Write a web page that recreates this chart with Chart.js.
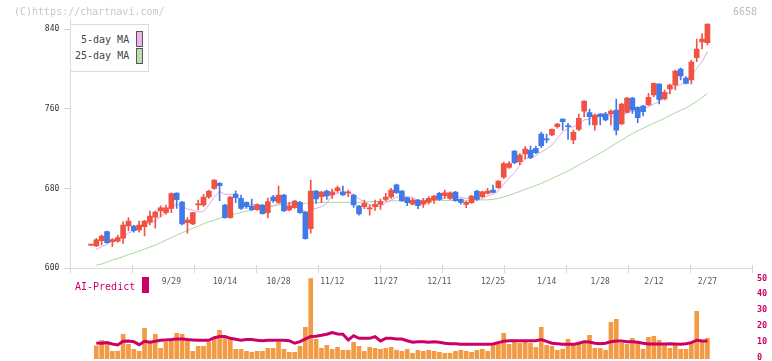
<!DOCTYPE html>
<html><head><meta charset="utf-8">
<script src="https://cdn.jsdelivr.net/npm/chart.js@4.4.1/dist/chart.umd.min.js"></script>
<style>
html,body{margin:0;padding:0;background:#fff;}
#wrap{position:relative;width:772px;height:361px;overflow:hidden;font-family:"DejaVu Sans Mono",monospace;}
canvas{position:absolute;left:0;}
#c1{top:0;}
#c2{top:270px;}
.t{position:absolute;white-space:nowrap;line-height:10px;font-size:10px;}
</style></head><body>
<div id="wrap">
<canvas id="c2" width="772" height="91"></canvas>
<canvas id="c1" width="772" height="300"></canvas>
<div class="t" style="left:14px;top:7px;color:#c8c8c8">(C)https://chartnavi.com/</div>
<div class="t" style="left:733px;top:7px;color:#bdbdbd">6658</div>
<div style="position:absolute;left:70px;top:24px;width:77px;height:46px;border:1px solid #dcdcdc;background:#fff"></div>
<div class="t" style="left:81px;top:35px;color:#444">5-day MA</div>
<div class="t" style="left:75px;top:51px;color:#444">25-day MA</div>
<div style="position:absolute;left:136px;top:31px;width:5px;height:14px;border:1px solid #555;background:#e9b6ea"></div>
<div style="position:absolute;left:136px;top:48px;width:5px;height:14px;border:1px solid #555;background:#bcdcb2"></div>
<div class="t" style="left:75px;top:282px;color:#cc0066">AI-Predict</div>
<div style="position:absolute;left:142px;top:277px;width:7px;height:16px;background:#cc0066"></div>
</div>
<script>
// ---- data ----
const dates = ['9/4','9/5','9/8','9/9','9/10','9/11','9/12','9/16','9/17','9/18','9/19','9/22','9/24','9/25','9/26','9/29','9/30','10/1','10/2','10/3','10/6','10/7','10/8','10/9','10/10','10/14','10/15','10/16','10/17','10/20','10/21','10/22','10/23','10/24','10/27','10/28','10/29','10/30','10/31','11/4','11/5','11/6','11/7','11/10','11/11','11/12','11/13','11/14','11/17','11/18','11/19','11/20','11/21','11/25','11/26','11/27','11/28','12/1','12/2','12/3','12/4','12/5','12/8','12/9','12/10','12/11','12/12','12/15','12/16','12/17','12/18','12/19','12/22','12/23','12/24','12/25','12/26','12/29','12/30','1/5','1/6','1/7','1/8','1/9','1/13','1/14','1/15','1/16','1/19','1/20','1/21','1/22','1/23','1/26','1/27','1/28','1/29','1/30','2/2','2/3','2/4','2/5','2/6','2/9','2/10','2/12','2/13','2/16','2/17','2/18','2/19','2/20','2/24','2/25','2/26','2/27'];
const tickLabels = ['9/29','10/14','10/28','11/12','11/27','12/11','12/25','1/14','1/28','2/12','2/27'];
const openP = [623,622.1,627.5,636.5,626.5,627.1,629.9,642.2,642.2,638.2,
641.5,646,651,657.3,655.6,660,675.4,666.4,645.6,644.2,
663.5,663.3,671.4,680.1,685.2,663.3,650.6,674.4,670,666,
662.3,658.6,663.3,655.6,671.4,666,673.4,658.3,660.6,666,
656.3,639.5,677.4,671.7,677.4,673.4,677.7,676.7,675.5,673.4,
662.3,661.7,659.5,661.7,664,669,671.4,683.5,677.4,670.7,
664.3,668.4,664.3,666,668.4,675,672.7,670,676.4,669,
664,665.7,677.4,671.7,675,678.4,680.8,691.2,701.2,717.6,
706.9,714.6,718.6,720.3,734.7,729.5,733.7,742.1,749.8,742.6,
728.7,739.4,757.8,756.2,743.8,754.8,754.8,754.8,758.9,744.8,
756.5,770.9,761.5,762.9,763.9,774,785,769.9,780,784,
800.1,791,789,811.5,827.2,826.5];
const highP = [623.5,629.8,633,637,629.5,633.2,646.5,650.6,643,647.3,
648,657.3,657.3,662.6,663.3,675.5,675.5,667,650.6,656,
668.4,674.1,678,689,686,664,672,677.7,673.4,666.5,
669.4,664.5,664,670.4,673.1,682.4,674,666,668,667,
657,688.5,678,677,678.4,679.4,682.4,682.4,678.4,674,
663,668.4,663.3,668.4,669.4,675.1,680,684.5,678,671,
670,669,670,671.7,673,676,678.4,676.7,677,669.5,
667,673,678,677.4,680,683.4,688,706.5,707,718,
715,722,722.7,722.7,736.7,734.7,740,745.5,750,745.5,
738.7,754.8,768,759.9,755,755,756.5,759,769.9,765.5,
771.5,771.5,762,763.5,775.7,786,785.5,779,785,799,
801,792.4,809.1,830.2,835.5,845.5];
const lowP = [622.5,621.4,623.1,625,621.5,626,624.8,637.2,635.9,636,
632.2,643.2,640,651.3,654,655.6,660,643.2,634.9,643.5,
658.3,662,670,679,667.7,650,650,665.7,659,660,
658,658,654,650.6,666,665,657,657.3,660,655,
629,634.9,665,665.7,669,670,676,673,671.7,661,
653,659.7,653,658,659,667.4,670,675,667,662.6,
663.3,659.7,661,664.3,665,668,670,669,667,664.3,
660.7,665,668,671,674.4,675.5,680,690,700,705,
704,709.6,710,715,721,726,733,740.5,738.7,729.4,
725,737.7,752.1,743.8,738.7,743.8,748,743.8,733.7,744,
756,755.5,746.1,753,763.5,772,765,769,775,779,
789,785,785,807.4,820.2,824.2];
const closeP = [623,628.2,632.2,625.4,628.5,630.5,643.2,647.3,637.5,643.2,
647.3,652.3,656.3,660.6,660.6,674.7,668.7,644.2,648.3,655.6,
664.5,671.4,677.4,688.5,682.7,650.6,671.4,670.7,660,661.6,
658.6,663.7,654.6,666.7,667.7,673.4,657.3,662.6,667.4,655.6,
629.5,677.4,669.4,676.4,672.4,676.7,680.7,673.4,676,663.3,
654.3,665,660.3,664,666.7,671.4,678.4,675.7,667.4,665.7,
668.4,662.7,667.7,670,672.4,669,675.7,675.7,667.7,666,
666,672.4,669,676.7,677.4,676.1,687.5,704.9,704.9,705.9,
713.6,719.6,710.9,716,723,728.8,739.4,744.8,747.1,742.1,
736.4,750.5,767.9,752.1,753.8,752.1,748.8,757.8,738.7,764.9,
770.9,758.9,751.2,757.2,771.6,785.7,769.6,776.6,784,798.1,
793,785.7,807.1,820.2,830.2,845.3];
const ma5 = [null,618.8,621.4,624.1,627.4,628.9,631.9,635,637.4,640.3,
643.7,645.5,647.3,651.9,655.4,660.9,664.2,661.8,659.3,658.3,
656.2,656.7,663.3,671.4,676.8,674.1,674.1,672.8,667.1,662.9,
664.5,662.9,659.7,661,662.3,665.2,663.9,665.5,665.7,663.3,
654.5,658.5,659.9,661.7,665,674.5,675.1,675.9,675.8,674,
669.5,666.4,663.8,661.4,662.1,665.5,668.2,671.2,671.9,671.7,
671.1,668,666.4,666.9,668.2,668.4,671,672.6,672.1,670.8,
670.2,669.6,668.2,670,672.3,674.3,677.3,684.5,690.2,695.9,
703.4,709.8,711,713.2,716.6,719.7,723.6,730.4,736.6,740.4,
742,744.2,748.8,749.8,752.1,755.3,754.9,752.9,750.2,752.5,
756.2,758.2,756.9,760.6,762,764.9,767.1,772.1,777.5,782.8,
784.3,787.5,793.6,800.8,807.2,817.7];
const ma25 = [null,602.7,604,606,608,609.5,611.5,613.5,615,617,
619,621,623,625.5,628,630.5,633,635.5,637.5,640,
642,644.5,646.5,648,650,651.5,653,654.5,656,657,
658,659.5,660.5,661.5,662.5,663.5,664,664.5,665,665,
665,665.5,665.5,666,666,666,666,666,666,666,
666,666.5,666.5,667,667,667,667.5,667.5,668,668,
668,668,668,668,668,668,668,668,668,668,
668,668,668.5,668.5,668.5,669,670,671.5,673,675,
677,679,681,683,685,687.5,690,692.5,695,697.5,
700.5,703.5,706.5,709.5,712.5,715.5,718.5,722,725.5,728.5,
732,735,738,740.5,743,745.5,748,750.5,753.5,756,
758.5,761,764,767.5,771.5,775.5];
const volume = [null,7.2,10.8,8.2,3.8,3.8,14.6,8.2,5.1,3.8,
18.4,8.9,14.6,5.7,9.5,10.1,15.2,14.6,10.1,3.8,
7.0,7.0,9.5,12.0,17.1,12.0,11.4,5.1,5.1,3.8,
3.2,3.8,3.8,5.7,5.7,9.5,5.1,3.2,3.2,7.0,
19.0,50.5,11.4,5.7,7.6,5.1,6.3,4.4,4.4,9.5,
7.0,3.8,6.3,5.7,5.1,5.7,6.3,4.4,3.8,5.1,
2.5,4.4,3.8,4.4,3.8,3.2,2.5,2.5,3.8,4.4,
3.8,3.2,4.4,5.1,3.8,7.6,8.2,15.2,8.2,10.1,
8.9,9.5,8.9,6.3,19.0,7.6,7.0,4.4,5.1,11.4,
7.6,8.2,9.5,13.9,5.7,5.7,4.4,22.2,24.1,8.9,
8.2,12.0,9.5,5.1,12.7,13.3,10.8,8.2,5.7,8.9,
5.1,5.1,8.9,29.1,9.5,12.0];
const aiPredict = [null,9.1,8.9,9.3,8.4,7.8,10.1,10.3,9.9,8.0,
10.1,9.5,10.1,10.8,11.0,11.2,11.6,11.6,11.2,11.0,
10.8,10.8,10.8,12.4,13.1,13.1,12.0,11.4,10.8,11.2,
11.2,10.8,10.5,10.8,10.8,10.8,10.8,10.5,8.9,9.9,
11.6,13.1,13.3,13.9,14.6,15.6,14.8,14.6,11.0,13.7,
12.0,12.0,12.0,13.1,10.3,12.0,12.0,11.6,11.6,10.5,
9.5,9.9,9.9,9.5,9.9,9.5,8.9,8.6,8.6,8.2,
8.2,8.2,8.2,8.2,8.2,8.4,9.3,10.1,10.5,10.5,
10.5,10.5,10.5,10.5,11.2,10.1,8.9,8.6,8.2,8.2,
8.2,8.9,9.9,9.7,8.9,8.6,8.9,9.9,10.3,10.3,
9.9,9.9,9.5,8.9,8.4,8.4,8.4,8.4,8.6,8.4,
8.2,8.6,9.3,10.8,10.3,10.3];
const priceTicks = [600,680,760,840];
const volTicks = [0,10,20,30,40,50];

// ---- layout / style ----
const UP = '#f05343', DOWN = '#4279e8';
const XMIN = -3.85, XMAX = 123.37;
const GRID_N = 11;
const gridTicks = Array.from({length: GRID_N + 1}, (_, k) => XMIN + k * (XMAX - XMIN) / GRID_N);
const labelIdx = {};
tickLabels.forEach(l => { labelIdx[dates.indexOf(l)] = l; });
const labelPositions = Object.keys(labelIdx).map(Number);
const idx = dates.map((_, i) => i);
const candleColors = idx.map(i => closeP[i] >= openP[i] ? UP : DOWN);
Chart.defaults.font.family = '"DejaVu Sans Mono", monospace';

const tickExt = {
  id: 'tickExt',
  afterDraw(chart) {
    const xs = chart.scales.x, ctx = chart.ctx, b = chart.chartArea.bottom;
    ctx.save(); ctx.strokeStyle = '#d6d6d6'; ctx.lineWidth = 1;
    gridTicks.forEach(v => {
      const px = Math.round(xs.getPixelForValue(v)) + 0.5;
      ctx.beginPath(); ctx.moveTo(px, b - 3); ctx.lineTo(px, b); ctx.stroke();
    });
    ctx.restore();
  }
};

new Chart(document.getElementById('c1'), {
  type: 'bar',
  data: { datasets: [
    { type: 'line', data: idx.map(i => ({x: i, y: ma25[i]})), borderColor: '#a9d69d', borderWidth: 1, pointRadius: 0, tension: 0, order: 5 },
    { type: 'line', data: idx.map(i => ({x: i, y: ma5[i]})), borderColor: '#e3a6e6', borderWidth: 1, pointRadius: 0, tension: 0, order: 4 },
    { type: 'bar', data: idx.map(i => ({x: i, y: [lowP[i], highP[i]]})), backgroundColor: candleColors, barThickness: 1, grouped: false, order: 3 },
    { type: 'bar', data: idx.map(i => ({x: i, y: [Math.min(openP[i], closeP[i]), Math.max(openP[i], closeP[i])]})), backgroundColor: candleColors, barThickness: 5, minBarLength: 1, grouped: false, order: 2 }
  ]},
  options: {
    responsive: false, maintainAspectRatio: false, animation: false, devicePixelRatio: 1,
    layout: { padding: { left: 0, top: 19.35, right: 19.7, bottom: 0 } },
    plugins: { legend: { display: false }, tooltip: { enabled: false } },
    scales: {
      x: {
        type: 'linear', min: XMIN, max: XMAX, offset: false,
        afterBuildTicks: s => { s.ticks = gridTicks.concat(labelPositions).map(v => ({value: v})); },
        afterFit: s => { s.height = 32; s.paddingLeft = 0; s.paddingRight = 0; },
        grid: { drawOnChartArea: false, offset: false, drawTicks: true, tickLength: 5,
                tickColor: c => (c.tick && labelIdx[c.tick.value] !== undefined) ? 'rgba(0,0,0,0)' : '#d6d6d6' },
        border: { display: true, color: '#dcdcdc' },
        ticks: { autoSkip: false, maxRotation: 0, padding: 4, color: '#555', font: { size: 8 },
                 callback: v => labelIdx[v] !== undefined ? labelIdx[v] : '' }
      },
      y: {
        type: 'linear', min: 600, max: 850,
        afterBuildTicks: s => { s.ticks = priceTicks.map(v => ({value: v})); },
        afterFit: s => { s.width = 70.3; s.paddingTop = 0; s.paddingBottom = 0; },
        grid: { drawOnChartArea: false, drawTicks: true, tickLength: 6, tickColor: '#cfcfcf' },
        border: { display: true, color: '#dcdcdc' },
        ticks: { padding: 5, color: '#333', font: { size: 8 } }
      }
    }
  },
  plugins: [tickExt]
});

new Chart(document.getElementById('c2'), {
  type: 'bar',
  data: { datasets: [
    { type: 'line', data: idx.map(i => ({x: i, y: aiPredict[i]})), borderColor: '#cc0066', borderWidth: 3, pointRadius: 0, tension: 0, order: 0 },
    { type: 'bar', data: idx.map(i => ({x: i, y: volume[i]})), backgroundColor: '#f29a44', barThickness: 4, base: -1.1, order: 1 }
  ]},
  options: {
    responsive: false, maintainAspectRatio: false, animation: false, devicePixelRatio: 1,
    layout: { padding: { left: 70.3, top: 8.3, right: 0, bottom: 1.96 } },
    plugins: { legend: { display: false }, tooltip: { enabled: false } },
    scales: {
      x: { type: 'linear', min: XMIN, max: XMAX, offset: false, display: false, grid: { offset: false } },
      y: {
        position: 'right', min: -1.1, max: 50,
        afterBuildTicks: s => { s.ticks = volTicks.map(v => ({value: v})); },
        afterFit: s => { s.width = 19.7; s.paddingTop = 0; s.paddingBottom = 0; },
        grid: { display: false, drawTicks: false },
        border: { display: false },
        ticks: { padding: 4.7, color: '#cc0066', font: { size: 8.5, weight: 'bold' } }
      }
    }
  }
});
</script>
</body></html>
